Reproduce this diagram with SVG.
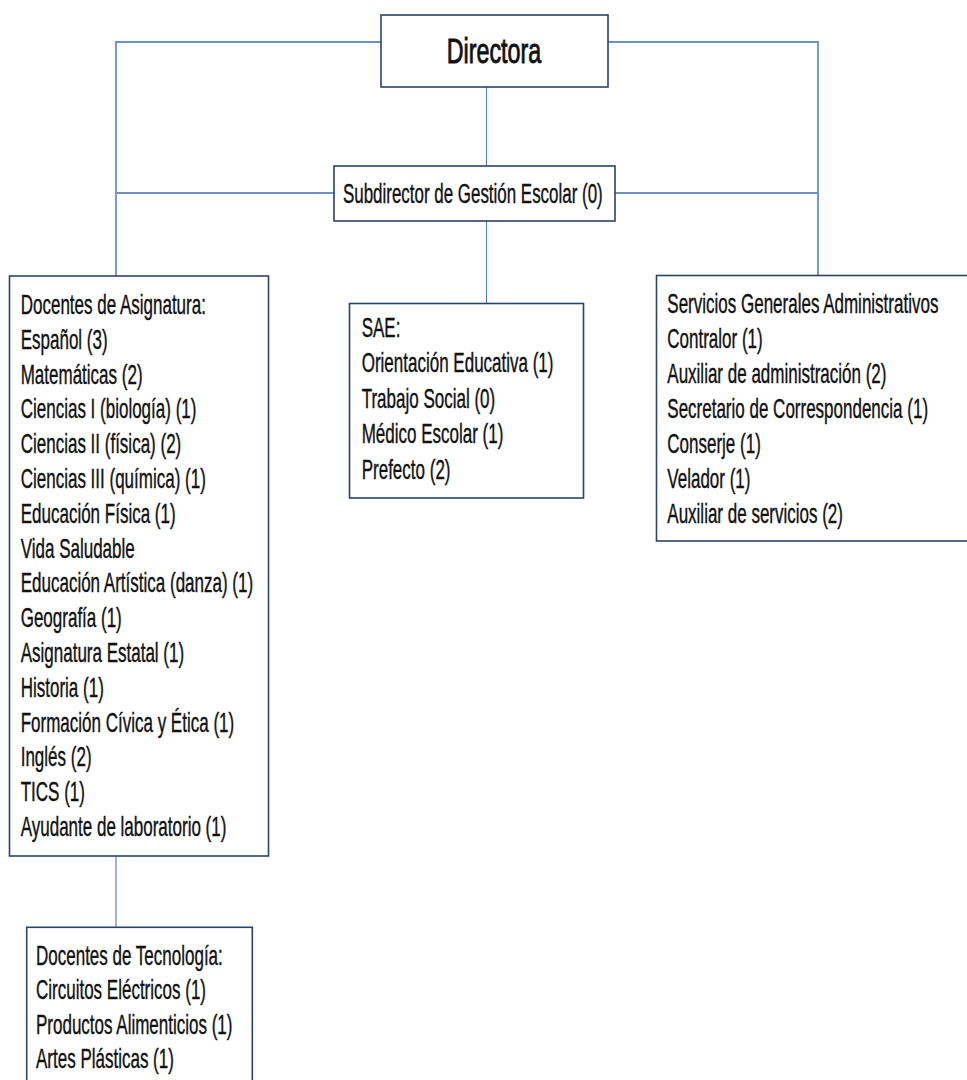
<svg xmlns="http://www.w3.org/2000/svg" width="967" height="1080" viewBox="0 0 967 1080">
<style>
.bg{fill:#ffffff}
.box{fill:#ffffff;stroke:#2b4466;stroke-width:1.6}
.ln{fill:none;stroke:#6a90c6;stroke-width:1.8}
.ln2{fill:none;stroke:#4f7bb5;stroke-width:1.1}
.t{font-family:"Liberation Sans",Arial,sans-serif;font-size:27px;fill:#111111;stroke:#111111;stroke-width:0.4}
.ts{font-family:"Liberation Sans",Arial,sans-serif;font-size:28px;fill:#111111;stroke:#111111;stroke-width:0.4}
.td{font-family:"Liberation Sans",Arial,sans-serif;font-size:35px;fill:#111111;stroke:#111111;stroke-width:0.9}
</style>
<rect class="bg" x="0" y="0" width="967" height="1080"/>
<g id="connectors">
<polyline class="ln" points="381,42 116,42 116,276"/>
<polyline class="ln" points="608,42 818,42 818,275"/>
<line class="ln" x1="116" y1="193" x2="334" y2="193"/>
<line class="ln" x1="615" y1="193" x2="818" y2="193"/>
<line class="ln2" x1="486.5" y1="87" x2="486.5" y2="166"/>
<line class="ln2" x1="486.5" y1="221" x2="486.5" y2="303"/>
<line class="ln2" x1="116" y1="856" x2="116" y2="927"/>
</g>
<g id="directora">
<rect class="box" x="381" y="15" width="227" height="72"/>
<text class="td" text-anchor="middle" transform="translate(494,62.5) scale(0.665,1)">Directora</text>
</g>
<g id="subdirector">
<rect class="box" x="334" y="166" width="281" height="55"/>
<text class="ts" transform="translate(343,202.5) scale(0.605,1)">Subdirector de Gestión Escolar (0)</text>
</g>
<g id="docentes-asignatura">
<rect class="box" x="9.5" y="276" width="259" height="580"/>
<text class="t" transform="translate(20.7,314) scale(0.63,1)">
<tspan x="0" dy="0">Docentes de Asignatura:</tspan>
<tspan x="0" dy="34.8">Español (3)</tspan>
<tspan x="0" dy="34.8">Matemáticas (2)</tspan>
<tspan x="0" dy="34.8">Ciencias  I (biología) (1)</tspan>
<tspan x="0" dy="34.8">Ciencias II (física) (2)</tspan>
<tspan x="0" dy="34.8">Ciencias III (química) (1)</tspan>
<tspan x="0" dy="34.8">Educación Física (1)</tspan>
<tspan x="0" dy="34.8">Vida Saludable</tspan>
<tspan x="0" dy="34.8">Educación Artística (danza) (1)</tspan>
<tspan x="0" dy="34.8">Geografía (1)</tspan>
<tspan x="0" dy="34.8">Asignatura Estatal (1)</tspan>
<tspan x="0" dy="34.8">Historia (1)</tspan>
<tspan x="0" dy="34.8">Formación Cívica y Ética (1)</tspan>
<tspan x="0" dy="34.8">Inglés (2)</tspan>
<tspan x="0" dy="34.8">TICS (1)</tspan>
<tspan x="0" dy="34.8">Ayudante de laboratorio (1)</tspan>
</text>
</g>
<g id="sae">
<rect class="box" x="349.5" y="303.5" width="234" height="194.5"/>
<text class="t" transform="translate(361.7,337) scale(0.63,1)">
<tspan x="0" dy="0">SAE:</tspan>
<tspan x="0" dy="35.5">Orientación Educativa (1)</tspan>
<tspan x="0" dy="35.5">Trabajo Social  (0)</tspan>
<tspan x="0" dy="35.5">Médico Escolar  (1)</tspan>
<tspan x="0" dy="35.5">Prefecto (2)</tspan>
</text>
</g>
<g id="servicios">
<rect class="box" x="656.5" y="275.5" width="330" height="265.5"/>
<text class="t" transform="translate(667.3,313.3) scale(0.63,1)">
<tspan x="0" dy="0">Servicios Generales Administrativos</tspan>
<tspan x="0" dy="35">Contralor (1)</tspan>
<tspan x="0" dy="35">Auxiliar de administración (2)</tspan>
<tspan x="0" dy="35">Secretario de Correspondencia (1)</tspan>
<tspan x="0" dy="35">Conserje (1)</tspan>
<tspan x="0" dy="35">Velador (1)</tspan>
<tspan x="0" dy="35">Auxiliar de servicios (2)</tspan>
</text>
</g>
<g id="docentes-tecnologia">
<rect class="box" x="26.7" y="927.3" width="225.6" height="200"/>
<text class="t" transform="translate(36,965) scale(0.63,1)">
<tspan x="0" dy="0">Docentes de Tecnología:</tspan>
<tspan x="0" dy="34.5">Circuitos Eléctricos (1)</tspan>
<tspan x="0" dy="34.5">Productos Alimenticios (1)</tspan>
<tspan x="0" dy="34.5">Artes Plásticas (1)</tspan>
</text>
</g>
</svg>
